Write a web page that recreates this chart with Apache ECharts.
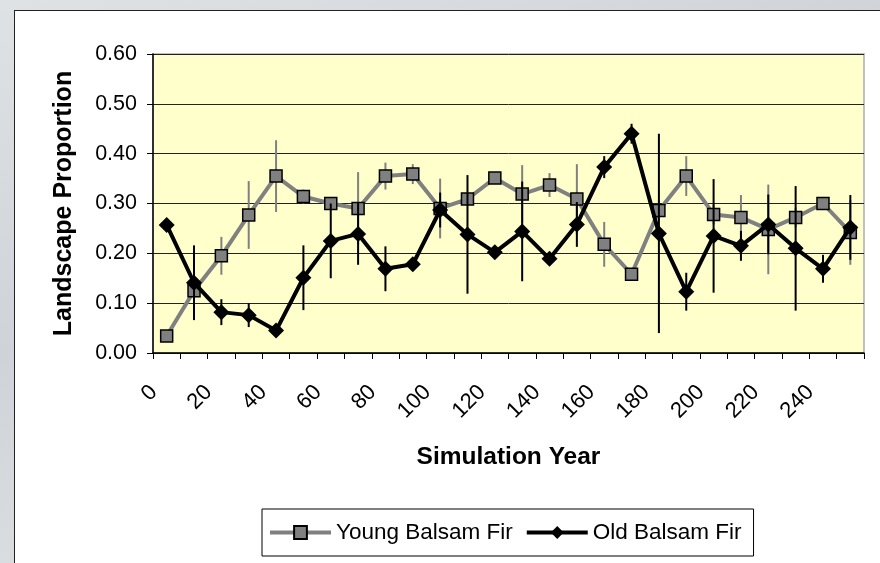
<!DOCTYPE html>
<html>
<head>
<meta charset="utf-8">
<script src="https://cdn.jsdelivr.net/npm/echarts@6/dist/echarts.min.js"></script>
<style>
  html, body { margin: 0; padding: 0; width: 880px; height: 563px; overflow: hidden;
    background: linear-gradient(160deg, #dfe2e5 0%, #cfd3d7 40%, #dcdfe2 70%, #d2d6da 100%); }
  #panel { position: absolute; left: 14px; top: 10px; width: 900px; height: 600px;
    background: #ffffff; border: 1.5px solid #222; }
  #chart { position: absolute; left: 0; top: 0; width: 880px; height: 563px; }
</style>
</head>
<body>
<div id="panel"></div>
<div id="chart"></div>
<script>
const years = ['0','10','20','30','40','50','60','70','80','90','100','110','120','130','140','150','160','170','180','190','200','210','220','230','240','250'];
const youngBalsamFir = [0.034,0.125,0.195,0.277,0.355,0.314,0.300,0.290,0.355,0.359,0.290,0.309,0.351,0.319,0.337,0.309,0.218,0.158,0.286,0.355,0.278,0.272,0.248,0.272,0.300,0.242];
const youngErr = [0.005,0.01,0.038,0.068,0.072,0.014,0.01,0.073,0.027,0.02,0.06,0.01,0.01,0.058,0.024,0.07,0.045,0.012,0.02,0.04,0.02,0.045,0.09,0.02,0.01,0.065];
const oldBalsamFir = [0.257,0.141,0.082,0.076,0.045,0.151,0.225,0.239,0.169,0.178,0.287,0.238,0.202,0.244,0.189,0.258,0.373,0.440,0.240,0.123,0.235,0.215,0.258,0.210,0.169,0.252];
const oldErr = [0.005,0.075,0.026,0.024,0.005,0.065,0.075,0.062,0.045,0.005,0.035,0.119,0.005,0.1,0.005,0.045,0.022,0.02,0.2,0.038,0.114,0.03,0.06,0.125,0.028,0.065];

const FONT = "'Liberation Sans', Arial, sans-serif";

function errSeries(name, vals, errs, color, z) {
  return {
    name: name + ' err', type: 'custom', z: z, silent: true,
    data: vals.map((v, i) => [i, v, errs[i]]),
    renderItem: function (params, api) {
      const x = api.value(0), v = api.value(1), e = api.value(2);
      const a = api.coord([x, v + e]);
      const b = api.coord([x, v - e]);
      return { type: 'line', shape: { x1: a[0], y1: a[1], x2: b[0], y2: b[1] },
        style: { stroke: color, lineWidth: 2 } };
    }
  };
}

const chart = echarts.init(document.getElementById('chart'), null, { renderer: 'canvas' });
chart.setOption({
  animation: false,
  backgroundColor: 'transparent',
  textStyle: { fontFamily: FONT },
  grid: { left: 153, right: 16, top: 54, bottom: 210, show: true,
    backgroundColor: '#FFFFCC', borderColor: '#c0c0c0', borderWidth: 2 },
  legend: {
    left: 262, top: 509, orient: 'horizontal',
    data: ['Young Balsam Fir', 'Old Balsam Fir'],
    itemWidth: 61, itemHeight: 16, itemGap: 12,
    padding: [12, 12, 12, 6],
    borderColor: '#000', borderWidth: 1, backgroundColor: '#fff',
    lineStyle: { width: 4 },
    textStyle: { fontFamily: FONT, fontSize: 22.5, color: '#000' }
  },
  xAxis: {
    type: 'category', data: years, boundaryGap: true,
    name: 'Simulation Year', nameLocation: 'middle', nameGap: 92,
    nameTextStyle: { fontFamily: FONT, fontSize: 24.5, fontWeight: 'bold', color: '#000' },
    axisLine: { lineStyle: { color: '#000', width: 1.5 } },
    axisTick: { show: true, interval: 0, length: 6, lineStyle: { color: '#000' } },
    axisLabel: { interval: 1, rotate: 45, margin: 23, padding: [0, 18, 0, 0],
      fontFamily: FONT, fontSize: 22, color: '#000' },
    splitLine: { show: false }
  },
  yAxis: {
    type: 'value', min: 0, max: 0.6, interval: 0.1,
    name: 'Landscape Proportion', nameLocation: 'middle', nameGap: 76,
    nameTextStyle: { fontFamily: FONT, fontSize: 25, fontWeight: 'bold', color: '#000' },
    axisLine: { show: true, lineStyle: { color: '#000', width: 1.5 } },
    axisTick: { show: true, length: 6, lineStyle: { color: '#000' } },
    axisLabel: { fontFamily: FONT, fontSize: 21.5, color: '#000', margin: 16,
      formatter: v => v.toFixed(2) },
    splitLine: { show: true, lineStyle: { color: '#222', width: 1 } }
  },
  series: [
    errSeries('Young Balsam Fir', youngBalsamFir, youngErr, '#808080', 2),
    {
      name: 'Young Balsam Fir', type: 'line', z: 3, data: youngBalsamFir,
      symbol: 'rect', symbolSize: 12,
      lineStyle: { color: '#808080', width: 4 },
      itemStyle: { color: '#808080', borderColor: '#000', borderWidth: 1.5 }
    },
    errSeries('Old Balsam Fir', oldBalsamFir, oldErr, '#000', 4),
    {
      name: 'Old Balsam Fir', type: 'line', z: 5, data: oldBalsamFir,
      symbol: 'diamond', symbolSize: 16,
      lineStyle: { color: '#000', width: 4 },
      itemStyle: { color: '#000', borderColor: '#000', borderWidth: 0 }
    }
  ]
});
</script>
</body>
</html>
